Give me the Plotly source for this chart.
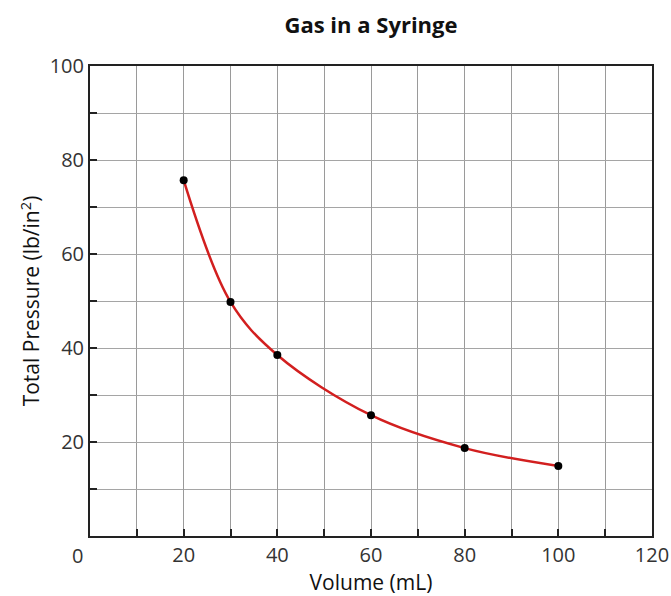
import plotly.graph_objects as go

volume_ml = [20, 30, 40, 60, 80, 100]
pressure = [75.7, 49.8, 38.5, 25.7, 18.7, 14.9]
x_tick_vals = [20, 40, 60, 80, 100, 120]
x_tick_text = ["20", "40", "60", "80", "100", "120"]
y_tick_vals = [20, 40, 60, 80, 100]
y_tick_text = ["20", "40", "60", "80", "100"]
origin_label = "0"

FONT = "Open Sans, Lato, sans-serif"

fig = go.Figure()
fig.add_trace(go.Scatter(
    x=volume_ml, y=pressure, mode="lines",
    line=dict(color="#d21f1f", width=2.5, shape="spline", smoothing=1.0),
    hoverinfo="skip", showlegend=False))
fig.add_trace(go.Scatter(
    x=volume_ml, y=pressure, mode="markers",
    marker=dict(color="black", size=8),
    showlegend=False))

axis_common = dict(
    automargin=False,
    showgrid=True, zeroline=False,
    showline=True, linecolor="#222", linewidth=2, mirror=True,
    ticks="inside", ticklen=7, tickwidth=2, tickcolor="#222",
    tickfont=dict(family=FONT, size=20, color="#333"),
)

fig.update_layout(
    width=671, height=596,
    margin=dict(l=90, r=19, t=66, b=60, autoexpand=False),
    paper_bgcolor="white", plot_bgcolor="white",
    title=dict(text="<b>Gas in a Syringe</b>", x=0.5, xanchor="center",
               xref="paper", y=0.958, yanchor="middle",
               font=dict(family=FONT, size=22, color="#111")),
    xaxis=dict(range=[0, 120], tickvals=x_tick_vals, ticktext=x_tick_text,
               gridcolor="#9a9a9a", gridwidth=1,
               title=dict(text="Volume (mL)", font=dict(family=FONT, size=21, color="#111"), standoff=8),
               **axis_common),
    yaxis=dict(range=[0, 100], tickvals=y_tick_vals, ticktext=y_tick_text,
               gridcolor="#a5a5a5", gridwidth=1,
               title=dict(text="Total Pressure (lb/in<sup>2</sup>)", font=dict(family=FONT, size=21, color="#111"), standoff=4),
               **axis_common),
    annotations=[dict(x=0, y=0, xref="x", yref="y", text=origin_label, showarrow=False,
                      xshift=-13, yshift=-19, font=dict(family=FONT, size=20, color="#333"))],
)

fig.update_xaxes(minor=dict(dtick=10, tick0=0, showgrid=True, gridcolor="#9a9a9a", gridwidth=1,
                            ticks="inside", ticklen=7, tickwidth=2, tickcolor="#222"))
fig.update_yaxes(minor=dict(dtick=10, tick0=0, showgrid=True, gridcolor="#a5a5a5", gridwidth=1,
                            ticks="inside", ticklen=7, tickwidth=2, tickcolor="#222"))

fig.write_html("out.html", config={"displayModeBar": False},
               post_script="document.body.style.margin='0';document.body.style.overflow='hidden';")
